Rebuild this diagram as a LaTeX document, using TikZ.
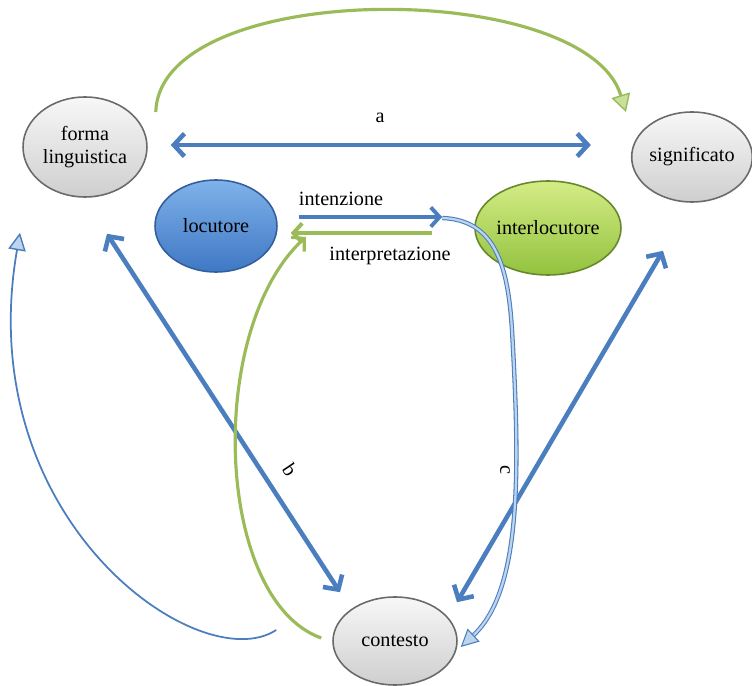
\documentclass[tikz,border=0pt]{standalone}
\usepackage{fontspec}
\setmainfont{Liberation Serif}
\usetikzlibrary{shapes.geometric,arrows.meta,calc}
\definecolor{lblue}{HTML}{4A7EBF}
\definecolor{lgreen}{HTML}{9BBB59}
\definecolor{paleblue}{HTML}{BDD4EE}
\definecolor{palegreen}{HTML}{C9E09A}
\definecolor{gborder}{HTML}{6A6A6A}
\definecolor{bluetop}{HTML}{7FB2EA}
\definecolor{bluebot}{HTML}{3F78C4}
\definecolor{greentop}{HTML}{D4EC86}
\definecolor{greenbot}{HTML}{92C23E}
\begin{document}
\begin{tikzpicture}[x=0.02cm,y=-0.02cm,
  every node/.style={font=\fontsize{11.5}{13}\selectfont},
  oval/.style={ellipse,inner sep=0pt,align=center,draw=gborder,line width=0.9pt},
  greynode/.style={oval,top color=gray!6,bottom color=gray!38},
  bluenode/.style={oval,top color=bluetop,bottom color=bluebot,draw=bluebot!80!black},
  greennode/.style={oval,top color=greentop,bottom color=greenbot,draw=greenbot!70!black},
  bthick/.style={draw=lblue,line width=2.6pt,{Straight Barb[length=6pt,width=13pt]}-{Straight Barb[length=6pt,width=13pt]}},
  bmid/.style={draw=lblue,line width=2.2pt,-{Straight Barb[length=5pt,width=11pt]}},
  gmid/.style={draw=lgreen,line width=2.2pt,-{Straight Barb[length=5pt,width=11pt]}},
  gcurve/.style={draw=lgreen,line width=1.8pt},
  hollowblue/.style={draw=lblue,double=paleblue,line width=0.6pt,double distance=1.3pt,
     -{Triangle[length=10pt,width=10pt,fill=paleblue]}},
  thinblue/.style={draw=lblue,line width=1pt,-{Triangle[length=10pt,width=10pt,fill=paleblue,line width=0.8pt]}},
  lab/.style={inner sep=1pt}
]
\useasboundingbox (0,0) rectangle (752,686);

\node[greynode,minimum width=2.48cm,minimum height=2.0cm] (forma) at (85,147) {forma\\linguistica};
\node[greynode,minimum width=2.4cm,minimum height=1.8cm] (signif) at (692,157) {significato};
\node[bluenode,minimum width=2.44cm,minimum height=1.84cm] (locut) at (216,226) {locutore};
\node[greennode,minimum width=2.44cm,minimum height=1.88cm] (interl) at (548,228) {interlocutore};
\node[greynode,minimum width=2.48cm,minimum height=1.76cm] (contesto) at (395,641) {contesto};

% a
\draw[bthick] ($(forma.east)+(23,-2)$) -- ($(signif.west)+(-40,-12)$);
\node[lab] (la) at (380,118) {a};

% top green arc
\draw[gcurve,-{Triangle[length=10pt,width=11pt,fill=palegreen,line width=0.8pt]}]
  ($(forma.east)+(8,-35)$) .. controls (160,-22) and (585,-22) .. ($(signif.west)+(-5,-45)$);

% intenzione / interpretazione
\draw[bmid] ($(locut.east)+(21,-9)$) -- ($(interl.west)+(-32,-11)$);
\node[lab] (lint) at (341,199) {intenzione};
\draw[gmid] ($(interl.west)+(-42,5)$) -- ($(locut.east)+(13,7)$);
\node[lab] (linterp) at (390,256) {interpretazione};

% b
\draw[bthick] ($(forma.south)+(22,36)$) -- ($(contesto.north)+(-55,-4)$);
\node[lab,rotate=-56] (lb) at (290,470) {b};

% significato - contesto
\draw[bthick] ($(signif.south)+(-29,48)$) -- ($(contesto.north)+(62,6)$);

% c
\draw[hollowblue] ($(interl.west)+(-32,-10)$) .. controls (495,220) and (508,265) .. (512,330)
   .. controls (520,470) and (522,590) .. ($(contesto.east)+(3,6)$);
\node[lab,rotate=-90] (lc) at (505,470) {c};

% green from contesto to locutore
\draw[gcurve,-{Straight Barb[length=5pt,width=11pt]}]
  ($(contesto.west)+(-11,-3)$) .. controls (215,600) and (205,330) .. ($(locut.east)+(28,11)$);

% thin blue left arc
\draw[thinblue] ($(contesto.west)+(-56,-11)$) .. controls (200,680) and (-30,520) .. ($(forma.south)+(-65,35)$);

\end{tikzpicture}
\end{document}
